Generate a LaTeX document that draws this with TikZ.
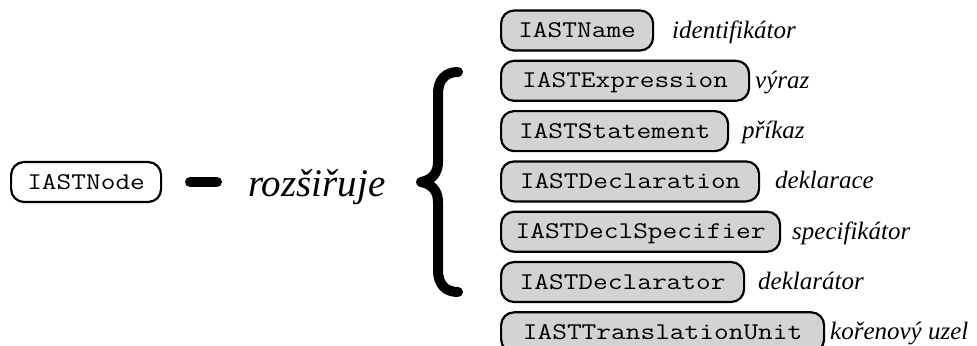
\documentclass[tikz,border=0pt]{standalone}
\usepackage{fontspec}
\setmainfont{Liberation Serif}
\setmonofont[FakeStretch=1.19]{Latin Modern Mono}
\definecolor{boxgray}{RGB}{211,211,211}
\tikzset{
  cls/.style={draw=black, line width=2.2bp, rounded corners=13bp, fill=boxgray,
    inner xsep=0pt, inner ysep=0pt, minimum height=40bp, text height=15bp, text depth=1bp,
    minimum width=#1,
    font=\fontsize{24bp}{28bp}\ttfamily, anchor=west},
  rootcls/.style={cls=#1, fill=white},
  lbl/.style={inner sep=0pt, anchor=base west, font=\fontsize{25bp}{30bp}\itshape},
  bigtxt/.style={inner sep=0pt, anchor=base west, font=\fontsize{39bp}{46bp}\itshape},
  thickline/.style={line width=10bp, line cap=round, line join=round}
}
\begin{document}
\begin{tikzpicture}[x=1bp,y=-1bp]
\useasboundingbox (0,0) rectangle (977,345);
\node[rootcls=150bp] (root) at (10,182) {IASTNode};
\node[bigtxt] (ext) at (248,196) {rozšiřuje};
\coordinate (d1) at (190,182);
\coordinate (d2) at (217,182);
\draw[thickline] (d1) -- (d2);
\draw[thickline] (458,72) .. controls (446,72) and (438,79) .. (438,94)
  -- (438,162) .. controls (438,173) and (432,180) .. (421,182)
  .. controls (432,184) and (438,191) .. (438,202)
  -- (438,270) .. controls (438,285) and (446,292) .. (458,292);
\node[cls=152bp] (n1) at (500,30.5) {IASTName};
\node[cls=248bp] (n2) at (500,80.8) {IASTExpression};
\node[cls=227bp] (n3) at (500,131.1) {IASTStatement};
\node[cls=258bp] (n4) at (500,181.4) {IASTDeclaration};
\node[cls=279bp] (n5) at (500,231.7) {IASTDeclSpecifier};
\node[cls=243bp] (n6) at (500,282) {IASTDeclarator};
\node[cls=323bp] (n7) at (500,332.3) {IASTTranslationUnit};
\node[lbl] (l1) at (672,38) {identifikátor};
\node[lbl] (l2) at (755,88.3) {výraz};
\node[lbl] (l3) at (742,138.6) {příkaz};
\node[lbl] (l4) at (775,188.9) {deklarace};
\node[lbl] (l5) at (792,239.2) {specifikátor};
\node[lbl] (l6) at (758,289.5) {deklarátor};
\node[lbl] (l7) at (830,339.8) {kořenový uzel};
\end{tikzpicture}
\end{document}
